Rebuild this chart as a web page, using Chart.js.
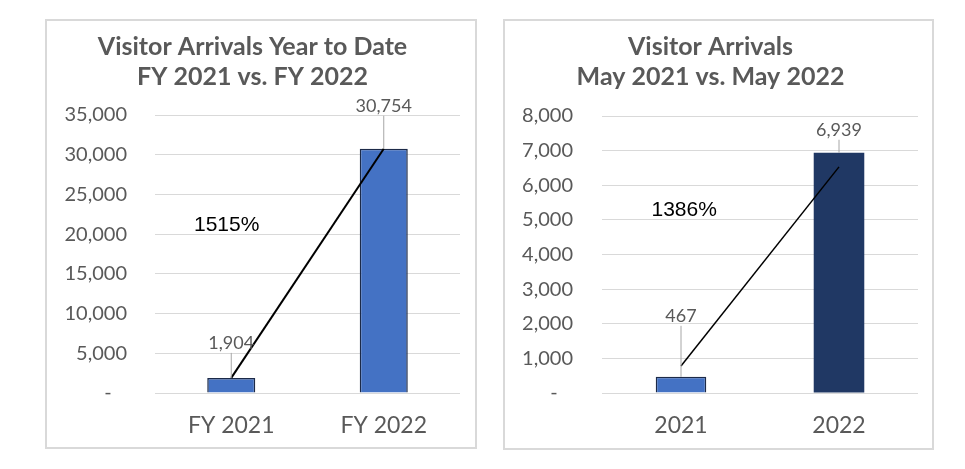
<!DOCTYPE html>
<html lang="en">
<head>
<meta charset="UTF-8">
<title>Visitor Arrivals</title>
<style>
  body { margin: 0; background: #fff; width: 965px; height: 469px; position: relative; overflow: hidden; }
  .chartBox { position: absolute; box-shadow: inset 0 0 0 2px #d9d9d9; }
  .chartBox canvas { display: block; }
  #boxYtd { left: 45px; top: 19px; width: 432px; height: 430px; }
  #boxMay { left: 503px; top: 19px; width: 431px; height: 431px; }
</style>
</head>
<body>
<div class="chartBox" id="boxYtd"><canvas id="ytdChart" width="432" height="430"></canvas></div>
<div class="chartBox" id="boxMay"><canvas id="mayChart" width="431" height="431"></canvas></div>

<script src="https://cdn.jsdelivr.net/npm/chart.js"></script>
<script>
// ---- data ----
const ytdTitle = ['Visitor Arrivals Year to Date', 'FY 2021 vs. FY 2022'];
const ytdLabels = ['FY 2021', 'FY 2022'];
const ytdValues = [1904, 30754];
const ytdTrend = [1904, 30754];
const ytdChange = '1515%';
const ytdMax = 35000, ytdStep = 5000;

const mayTitle = ['Visitor Arrivals', 'May 2021 vs. May 2022'];
const mayLabels = ['2021', '2022'];
const mayValues = [467, 6939];
const mayTrend = [780, 6530];   // hand drawn line, not quite bar to bar
const mayChange = '1386%';
const mayMax = 8000, mayStep = 1000;

const grey = '#595959';

// value labels with leader lines + the % change note
const barNotes = {
  id: 'barNotes',
  afterDatasetsDraw(chart, args, opts) {
    const ctx = chart.ctx;
    const meta = chart.getDatasetMeta(1);
    const vals = chart.data.datasets[1].data;
    ctx.save();
    ctx.textAlign = 'center';
    ctx.textBaseline = 'middle';
    meta.data.forEach((bar, i) => {
      const ly = bar.y - opts.offsets[i];
      ctx.strokeStyle = '#a6a6a6';
      ctx.lineWidth = 1;
      ctx.beginPath();
      ctx.moveTo(bar.x, ly + 10);
      ctx.lineTo(bar.x, bar.y);
      ctx.stroke();
      ctx.font = '18px Lato';
      ctx.fillStyle = grey;
      ctx.fillText(vals[i].toLocaleString('en-US'), bar.x, ly);
    });
    const xs = chart.scales.x, ys = chart.scales.y;
    ctx.font = '21px "Liberation Sans"';
    ctx.fillStyle = '#000';
    ctx.fillText(opts.note, xs.getPixelForValue(opts.noteX), ys.getPixelForValue(opts.noteY));
    ctx.restore();
  }
};

function makeChart(id, title, labels, values, trend, colors, borders, yMax, yStep, s) {
  return new Chart(document.getElementById(id), {
    data: {
      labels: labels,
      datasets: [{
        type: 'line',
        data: trend,
        borderColor: '#000',
        borderWidth: s.lineWidth,
        pointRadius: 0,
        order: 0
      }, {
        type: 'bar',
        data: values,
        backgroundColor: colors,
        borderColor: '#1c2a48',
        borderWidth: borders,
        barPercentage: s.barPct,
        categoryPercentage: 1,
        order: 1
      }]
    },
    options: {
      responsive: false,
      animation: false,
      layout: { padding: { left: 0, right: s.padRight, top: 0, bottom: 0 } },
      plugins: {
        legend: { display: false },
        tooltip: { enabled: false },
        title: {
          display: true,
          text: title,
          color: grey,
          font: { family: 'Lato', size: 25, weight: 'bold', lineHeight: 30 / 25 },
          padding: { top: 13, bottom: s.titleBottom }
        },
        barNotes: { offsets: s.offsets, note: s.note, noteX: s.noteX, noteY: s.noteY }
      },
      scales: {
        x: {
          afterFit: sc => { sc.height = s.xHeight; },
          grid: { display: false, drawTicks: false },
          border: { display: false },
          ticks: { color: grey, padding: 19, font: { family: 'Lato', size: 23 } }
        },
        y: {
          min: 0,
          max: yMax,
          afterFit: sc => { sc.width = s.axisWidth; },
          grid: { color: '#d9d9d9', lineWidth: 1, drawTicks: false },
          border: { display: false },
          ticks: {
            stepSize: yStep,
            padding: s.tickPad,
            color: grey,
            font: { family: 'Lato', size: 20 },
            callback: v => v === 0 ? '-   ' : v.toLocaleString('en-US')
          }
        }
      }
    },
    plugins: [barNotes]
  });
}

makeChart('ytdChart', ytdTitle, ytdLabels, ytdValues, ytdTrend,
  ['#4472c4', '#4472c4'], [1.5, 1.5], ytdMax, ytdStep,
  { lineWidth: 2, barPct: 0.315, padRight: 17, titleBottom: 23, axisWidth: 110, tickPad: 28, xHeight: 56,
    offsets: [35, 43], note: ytdChange, noteX: -0.03, noteY: 21150 });

makeChart('mayChart', mayTitle, mayLabels, mayValues, mayTrend,
  ['#4472c4', '#203864'], [1.5, 0], mayMax, mayStep,
  { lineWidth: 1.5, barPct: 0.32, padRight: 16, titleBottom: 24, axisWidth: 99, tickPad: 29, xHeight: 57,
    offsets: [61, 23], note: mayChange, noteX: 0.02, noteY: 5285 });
</script>
</body>
</html>
